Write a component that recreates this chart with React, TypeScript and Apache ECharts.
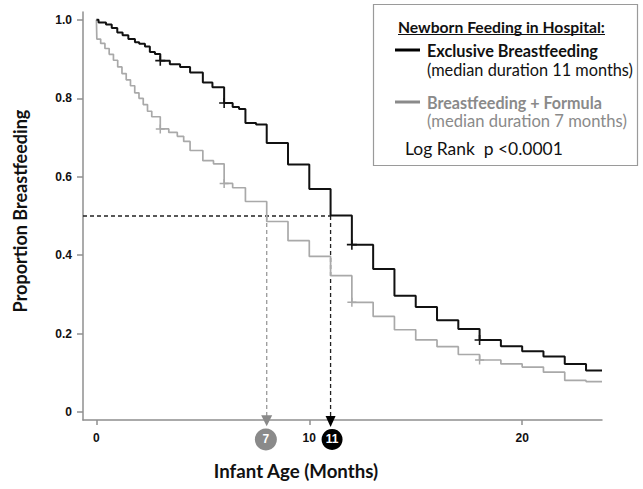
import React, { useEffect, useRef } from 'react';
import * as echarts from 'echarts';

// Kaplan-Meier step data (time in months, proportion)
const exclusiveTimes = [0, 0.1, 0.45, 0.72, 0.98, 1.23, 1.5, 1.81, 2.01, 2.28, 2.51, 2.75, 3, 3.45, 3.93, 4.4, 5.0, 5.45, 6, 6.4, 6.7, 7, 7.5, 8, 9, 10, 11, 12, 13, 14, 15, 16, 17, 18, 19, 20, 21, 22, 23, 23.75];
const exclusiveValues = [1.0, 0.993, 0.988, 0.979, 0.968, 0.961, 0.951, 0.943, 0.939, 0.932, 0.918, 0.913, 0.896, 0.887, 0.880, 0.866, 0.840, 0.828, 0.788, 0.778, 0.773, 0.737, 0.733, 0.686, 0.631, 0.569, 0.501, 0.427, 0.365, 0.297, 0.268, 0.234, 0.212, 0.184, 0.168, 0.155, 0.142, 0.123, 0.106, 0.106];

const formulaTimes = [0, 0.02, 0.2, 0.4, 0.6, 0.8, 1.0, 1.2, 1.4, 1.6, 1.8, 2.0, 2.2, 2.4, 2.6, 3.0, 3.4, 3.8, 4.1, 4.4, 5.0, 5.5, 6.0, 6.4, 7.0, 8.0, 9, 10, 11, 12, 13, 14, 15, 16, 17, 18, 19, 20, 21, 22, 23, 23.75];
const formulaValues = [1.0, 0.951, 0.940, 0.927, 0.912, 0.897, 0.880, 0.863, 0.847, 0.832, 0.814, 0.800, 0.784, 0.767, 0.753, 0.722, 0.713, 0.703, 0.690, 0.667, 0.641, 0.633, 0.583, 0.572, 0.537, 0.486, 0.437, 0.397, 0.348, 0.280, 0.244, 0.210, 0.184, 0.167, 0.147, 0.133, 0.123, 0.115, 0.102, 0.081, 0.078, 0.078];

const exclusiveCensorTimes = [3, 6, 12, 18];
const exclusiveCensorValues = [0.896, 0.788, 0.427, 0.184];
const formulaCensorTimes = [3, 6, 12, 18];
const formulaCensorValues = [0.722, 0.583, 0.280, 0.133];

const medianLevel = 0.5;
const medianCrossTimes = [8, 11];
const medianLabels = ['7', '11'];

const xTicks = [0, 10, 20];
const yTicks = [0, 0.2, 0.4, 0.6, 0.8, 1.0];

const legendTitle = 'Newborn Feeding in Hospital:';
const seriesNames = ['Exclusive Breastfeeding', 'Breastfeeding + Formula'];
const medianNotes = ['(median duration 11 months)', '(median duration 7 months)'];
const testNote = 'Log Rank  p <0.0001';
const xTitle = 'Infant Age (Months)';
const yTitle = 'Proportion Breastfeeding';

const BLACK = '#111111';
const GRAY_LINE = '#a9a9a9';
const GRAY_DARK = '#8a8a8a';
const AXIS = '#8f8f8f';
const FAMILY = 'Lato, "Open Sans", sans-serif';

const zip = (a: number[], b: number[]) => a.map((t, i) => [t, b[i]]);

let measureCtx: CanvasRenderingContext2D | null = null;
const fitFont = (text: string, weight: string, targetWidth: number, fallback: number) => {
  try {
    if (!measureCtx) measureCtx = document.createElement('canvas').getContext('2d');
    if (!measureCtx) return `${weight} ${fallback}px ${FAMILY}`;
    measureCtx.font = `${weight} 100px ${FAMILY}`;
    const w = measureCtx.measureText(text).width;
    const size = w > 0 ? (100 * targetWidth) / w : fallback;
    return `${weight} ${size.toFixed(2)}px ${FAMILY}`;
  } catch (e) {
    return `${weight} ${fallback}px ${FAMILY}`;
  }
};

export default function App() {
  const ref = useRef<HTMLDivElement>(null);
  useEffect(() => {
    if (!ref.current) return;
    const chart = echarts.init(ref.current, undefined, { renderer: 'svg' });
    const crossSymbol = 'path://M5,0L5,10M0,5L10,5';
    const txt = (text: string, x: number, y: number, font: string, fill: string) => ({
      type: 'text', x, y, z: 11,
      style: { text, fill, font, textVerticalAlign: 'middle', verticalAlign: 'middle' },
    });
    const option: any = {
      animation: false,
      backgroundColor: '#ffffff',
      grid: { left: 83, right: 41, top: 12, bottom: 69 },
      xAxis: {
        type: 'value',
        min: -0.63,
        max: 23.75,
        splitLine: { show: false },
        axisLine: { onZero: false, lineStyle: { color: AXIS, width: 1.5 } },
        axisTick: { customValues: xTicks, length: 5, lineStyle: { color: AXIS, width: 1.5 } },
        axisLabel: {
          customValues: xTicks,
          margin: 12,
          color: '#111',
          fontFamily: 'Arial, "Liberation Sans", sans-serif',
          fontWeight: 'bold',
          fontSize: 12,
        },
      },
      yAxis: {
        type: 'value',
        min: -0.02,
        max: 1.02,
        splitLine: { show: false },
        axisLine: { onZero: false, lineStyle: { color: AXIS, width: 1.5 } },
        axisTick: { customValues: yTicks, length: 6, lineStyle: { color: AXIS, width: 1.5 } },
        axisLabel: {
          customValues: yTicks,
          margin: 11,
          color: '#111',
          fontFamily: 'Arial, "Liberation Sans", sans-serif',
          fontWeight: 'bold',
          fontSize: 12,
          formatter: (v: number) => (v === 0 ? '0' : v.toFixed(1)),
        },
      },
      series: [
        {
          type: 'line',
          name: 'median-h',
          data: [[-0.63, medianLevel], [medianCrossTimes[1], medianLevel]],
          symbol: 'none',
          lineStyle: { color: '#222', width: 1.3, type: [4, 3] },
          z: 1,
        },
        {
          type: 'line',
          name: 'median-v-formula',
          data: [[medianCrossTimes[0], medianLevel], [medianCrossTimes[0], -0.015]],
          symbol: 'none',
          clip: false,
          lineStyle: { color: '#9a9a9a', width: 1.3, type: [4, 3] },
          z: 1,
        },
        {
          type: 'line',
          name: 'median-v-exclusive',
          data: [[medianCrossTimes[1], medianLevel], [medianCrossTimes[1], -0.015]],
          symbol: 'none',
          clip: false,
          lineStyle: { color: '#222', width: 1.3, type: [4, 3] },
          z: 1,
        },
        {
          type: 'line',
          name: seriesNames[1],
          data: zip(formulaTimes, formulaValues),
          step: 'end',
          symbol: 'none',
          lineStyle: { color: GRAY_LINE, width: 1.7 },
          z: 2,
        },
        {
          type: 'line',
          name: seriesNames[0],
          data: zip(exclusiveTimes, exclusiveValues),
          step: 'end',
          symbol: 'none',
          lineStyle: { color: BLACK, width: 2 },
          z: 3,
        },
        {
          type: 'scatter',
          data: zip(formulaCensorTimes, formulaCensorValues),
          symbol: crossSymbol,
          symbolSize: 9,
          itemStyle: { color: 'none', borderColor: GRAY_LINE, borderWidth: 1.5, opacity: 1 },
          z: 4,
        },
        {
          type: 'scatter',
          data: zip(exclusiveCensorTimes, exclusiveCensorValues),
          symbol: crossSymbol,
          symbolSize: 10,
          itemStyle: { color: 'none', borderColor: BLACK, borderWidth: 1.6, opacity: 1 },
          z: 4,
        },
        {
          type: 'scatter',
          clip: false,
          data: [[medianCrossTimes[0], -0.022]],
          symbol: 'triangle',
          symbolRotate: 180,
          symbolSize: [11, 11],
          itemStyle: { color: GRAY_DARK, opacity: 1 },
          z: 5,
        },
        {
          type: 'scatter',
          clip: false,
          data: [[medianCrossTimes[1], -0.024]],
          symbol: 'triangle',
          symbolRotate: 180,
          symbolSize: [10, 11],
          itemStyle: { color: '#000', opacity: 1 },
          z: 5,
        },
        {
          type: 'scatter',
          clip: false,
          data: [
            { value: [medianCrossTimes[0] - 0.04, -0.0695], label: { formatter: medianLabels[0] }, itemStyle: { color: GRAY_DARK, opacity: 1 }, symbolSize: 22 },
            { value: [medianCrossTimes[1] + 0.07, -0.0695], label: { formatter: medianLabels[1] }, itemStyle: { color: '#000', opacity: 1 }, symbolSize: 21 },
          ],
          symbol: 'circle',
          itemStyle: { opacity: 1 },
          label: {
            show: true,
            position: 'inside',
            color: '#fff',
            fontFamily: 'Arial, "Liberation Sans", sans-serif',
            fontWeight: 'bold',
            fontSize: 12,
          },
          z: 5,
        },
      ],
      graphic: [
        {
          type: 'text',
          x: 20,
          y: 211,
          rotation: Math.PI / 2,
          style: {
            text: yTitle,
            fill: '#111',
            font: fitFont(yTitle, 'bold', 203, 18),
            textAlign: 'center',
            textVerticalAlign: 'middle',
            align: 'center',
            verticalAlign: 'middle',
          },
        },
        {
          type: 'text',
          x: 296,
          y: 471,
          style: {
            text: xTitle,
            fill: '#111',
            font: fitFont(xTitle, 'bold', 165, 18),
            textAlign: 'center',
            textVerticalAlign: 'middle',
            align: 'center',
            verticalAlign: 'middle',
          },
        },
        {
          type: 'rect',
          shape: { x: 373.5, y: 4.5, width: 264, height: 161 },
          style: { fill: '#fff', stroke: '#9a9a9a', lineWidth: 1.2 },
          z: 10,
        },
        txt(legendTitle, 398, 27, fitFont(legendTitle, 'bold', 207, 15), '#111'),
        {
          type: 'line', z: 11,
          shape: { x1: 398, y1: 34.5, x2: 605, y2: 34.5 },
          style: { stroke: '#111', lineWidth: 1.2 },
        },
        {
          type: 'line', z: 11,
          shape: { x1: 395, y1: 50, x2: 420, y2: 50 },
          style: { stroke: '#000', lineWidth: 3 },
        },
        txt(seriesNames[0], 427, 50, fitFont(seriesNames[0], 'bold', 171, 15), '#111'),
        txt(medianNotes[0], 427, 69, fitFont(medianNotes[0], 'normal', 206, 15), '#111'),
        {
          type: 'line', z: 11,
          shape: { x1: 395, y1: 102, x2: 420, y2: 102 },
          style: { stroke: GRAY_DARK, lineWidth: 3 },
        },
        txt(seriesNames[1], 427, 102, fitFont(seriesNames[1], 'bold', 175, 15), GRAY_DARK),
        txt(medianNotes[1], 427, 121, fitFont(medianNotes[1], 'normal', 200, 15), GRAY_DARK),
        txt(testNote, 405, 148, fitFont(testNote, 'normal', 158, 15), '#111'),
      ],
    };
    chart.setOption(option);
    return () => chart.dispose();
  }, []);
  return <div ref={ref} style={{ width: 643, height: 489, position: 'absolute', left: 0, top: 0 }} />;
}
